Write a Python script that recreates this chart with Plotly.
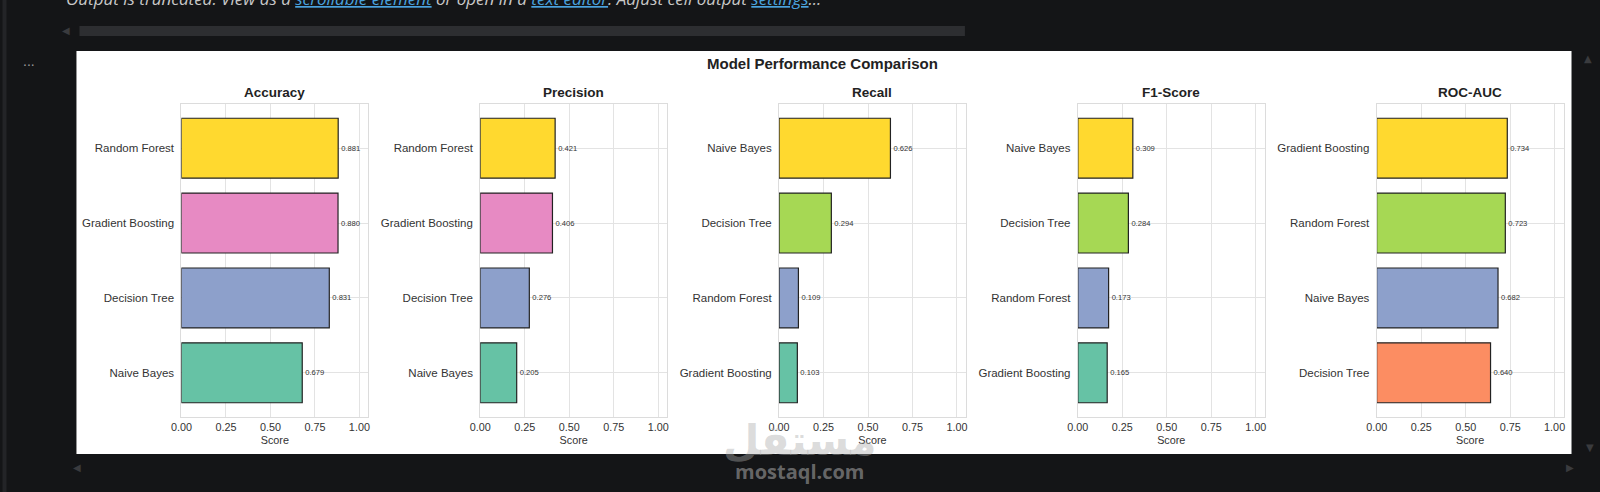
import plotly.graph_objects as go

W, H = 1600, 492

# ---------------- data ----------------
metric_titles = ["Accuracy", "Precision", "Recall", "F1-Score", "ROC-AUC"]

accuracy_models = ["Random Forest", "Gradient Boosting", "Decision Tree", "Naive Bayes"]
accuracy_values = [0.881, 0.880, 0.831, 0.679]

precision_models = ["Random Forest", "Gradient Boosting", "Decision Tree", "Naive Bayes"]
precision_values = [0.421, 0.406, 0.276, 0.205]

recall_models = ["Naive Bayes", "Decision Tree", "Random Forest", "Gradient Boosting"]
recall_values = [0.626, 0.294, 0.109, 0.103]

f1_models = ["Naive Bayes", "Decision Tree", "Random Forest", "Gradient Boosting"]
f1_values = [0.309, 0.284, 0.173, 0.165]

rocauc_models = ["Gradient Boosting", "Random Forest", "Naive Bayes", "Decision Tree"]
rocauc_values = [0.734, 0.723, 0.682, 0.640]

x_tick_values = [0.0, 0.25, 0.5, 0.75, 1.0]
x_tick_labels = ["0.00", "0.25", "0.50", "0.75", "1.00"]

# ---------------- styles ----------------
YEL, PINK, BLUE, TEAL, LIME, ORANGE = "#ffd92f", "#e78ac3", "#8da0cb", "#66c2a5", "#a6d854", "#fc8d62"
panel_colors = [
    [YEL, PINK, BLUE, TEAL],
    [YEL, PINK, BLUE, TEAL],
    [YEL, LIME, BLUE, TEAL],
    [YEL, LIME, BLUE, TEAL],
    [YEL, LIME, BLUE, ORANGE],
]
panels = [
    (accuracy_models, accuracy_values),
    (precision_models, precision_values),
    (recall_models, recall_values),
    (f1_models, f1_values),
    (rocauc_models, rocauc_values),
]

# horizontal calibration of the photographed page
XO, XS = 10.5, 0.9925

def px(x):
    return (x - XO) / (W * XS)

def py(y):
    return 1 - y / H

FONT = "Liberation Sans, Arial, sans-serif"
BG = "#141517"
GRID = "#e3e3e3"

panel_left = [181, 480, 779, 1078, 1377]
panel_w = 187
plot_top, plot_bottom = 104, 417

fig = go.Figure()
layout_axes = {}
annotations = []
shapes = []

# white output area
shapes.append(dict(type="rect", xref="paper", yref="paper",
                   x0=px(76), x1=px(1572), y0=py(454), y1=py(51),
                   fillcolor="white", line=dict(width=0), layer="below"))

for i, ((models, vals), title, cols) in enumerate(zip(panels, metric_titles, panel_colors)):
    n = i + 1
    xa = "x" if n == 1 else f"x{n}"
    ya = "y" if n == 1 else f"y{n}"
    fig.add_trace(go.Bar(
        x=vals, y=models, orientation="h", xaxis=xa, yaxis=ya,
        marker=dict(color=cols, line=dict(color="#222222", width=1.2)),
        width=0.8,
        text=[f"{v:.3f}" for v in vals], textposition="outside",
        textfont=dict(size=7.6, color="#333333", family=FONT),
        constraintext="none", cliponaxis=False, showlegend=False,
        hoverinfo="x+y",
    ))
    x0, x1 = px(panel_left[i]), px(panel_left[i] + panel_w)
    layout_axes["xaxis" if n == 1 else f"xaxis{n}"] = dict(
        domain=[x0, x1], anchor=ya, range=[0, 1.05],
        tickvals=x_tick_values, ticktext=x_tick_labels,
        showgrid=True, gridcolor=GRID, gridwidth=1, zeroline=False,
        showline=True, linecolor="#dcdcdc", linewidth=1, mirror=True,
        ticks="",
        tickfont=dict(family=FONT, size=10.8, color="#333333"),
        title=dict(text="Score", font=dict(family=FONT, size=10.8, color="#333333"), standoff=4),
        fixedrange=True,
    )
    layout_axes["yaxis" if n == 1 else f"yaxis{n}"] = dict(
        domain=[py(plot_bottom), py(plot_top)], anchor=xa,
        type="category", categoryorder="array", categoryarray=models,
        range=[3.59, -0.59],
        showgrid=True, gridcolor=GRID, gridwidth=1, zeroline=False,
        showline=True, linecolor="#dcdcdc", linewidth=1, mirror=True,
        ticks="outside", ticklen=4, tickcolor="rgba(0,0,0,0)",
        tickfont=dict(family=FONT, size=11.5, color="#333333"),
        fixedrange=True,
    )
    annotations.append(dict(
        text=f"<b>{title}</b>", xref="paper", yref="paper",
        x=(x0 + x1) / 2, y=py(93), xanchor="center", yanchor="middle",
        showarrow=False, font=dict(family=FONT, size=13.5, color="#222222"),
    ))

# figure title
annotations.append(dict(
    text="<b>Model Performance Comparison</b>", xref="paper", yref="paper",
    x=px(823), y=py(63), xanchor="center", yanchor="middle", showarrow=False,
    font=dict(family=FONT, size=15, color="#222222"),
))

# notebook chrome: truncated-output message
LINK = "#4aa3df"
msg = ("<i>Output is truncated. View as a "
       f"<span style='color:{LINK}'><u>scrollable element</u></span> or open in a "
       f"<span style='color:{LINK}'><u>text editor</u></span>. Adjust cell output "
       f"<span style='color:{LINK}'><u>settings</u></span>...</i>")
annotations.append(dict(
    text=msg, xref="paper", yref="paper", x=px(64), y=py(12),
    xanchor="left", yanchor="bottom", showarrow=False,
    font=dict(family="Open Sans, Noto Sans, sans-serif", size=17, color="#c8c8c8"),
))

# "..." cell menu
annotations.append(dict(text="...", xref="paper", yref="paper", x=px(29), y=py(61),
                        xanchor="center", yanchor="middle", showarrow=False,
                        font=dict(family=FONT, size=14, color="#9a9a9a")))

# scrollbars and arrows
shapes.append(dict(type="rect", xref="paper", yref="paper",
                   x0=px(79), x1=px(965), y0=py(36), y1=py(26),
                   fillcolor="#2d2e31", line=dict(width=0), layer="below"))
shapes.append(dict(type="rect", xref="paper", yref="paper",
                   x0=px(2), x1=px(6), y0=0, y1=1,
                   fillcolor="#232427", line=dict(width=0), layer="below"))
for (ax, ay, glyph) in [(66, 31, "◀"), (77, 467, "◀"), (1570, 467, "▶"),
                        (1588, 59, "▲"), (1590, 447, "▼")]:
    annotations.append(dict(text=glyph, xref="paper", yref="paper", x=px(ax), y=py(ay),
                            xanchor="center", yanchor="middle", showarrow=False,
                            font=dict(family="DejaVu Sans", size=10, color="#3a3b3e")))

# watermark
annotations.append(dict(text="<b>مستقل</b>", xref="paper", yref="paper", x=px(800), y=py(440),
                        xanchor="center", yanchor="middle", showarrow=False,
                        font=dict(family="DejaVu Sans, Noto Sans", size=42, color="rgba(170,170,170,0.42)")))
annotations.append(dict(text="<b>mostaql.com</b>", xref="paper", yref="paper", x=px(800), y=py(471),
                        xanchor="center", yanchor="middle", showarrow=False,
                        font=dict(family="Open Sans, Noto Sans", size=20, color="rgba(150,150,150,0.65)")))

fig.update_layout(
    width=W, height=H, autosize=False,
    margin=dict(l=0, r=0, t=0, b=0),
    paper_bgcolor=BG, plot_bgcolor="white",
    bargap=0.2,
    shapes=shapes, annotations=annotations,
    font=dict(family=FONT),
    **layout_axes,
)

fig.write_html("out.html", config={"displayModeBar": False})
